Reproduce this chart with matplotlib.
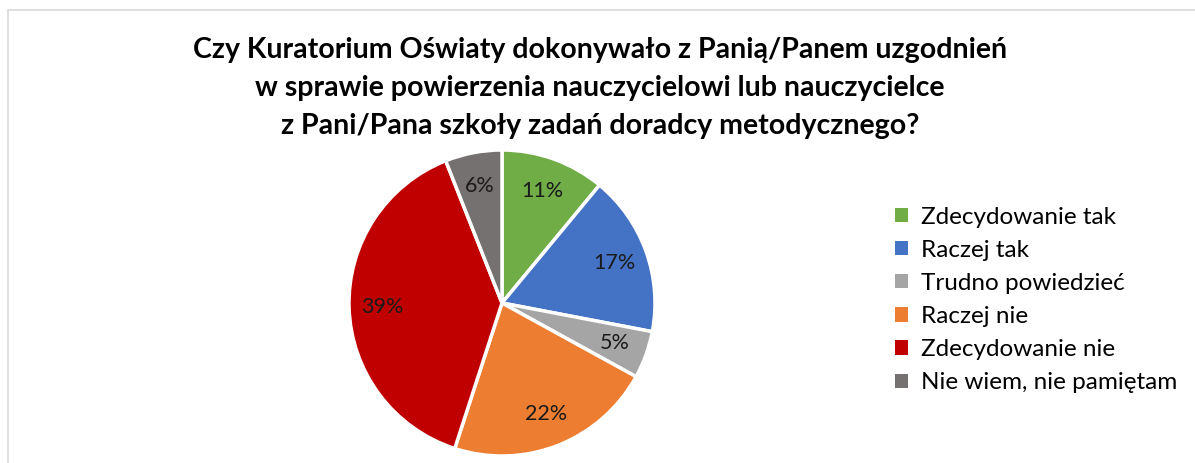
import matplotlib.pyplot as plt
from matplotlib.patches import Patch, Rectangle

# dane
kategorie = ['Zdecydowanie tak', 'Raczej tak', 'Trudno powiedzieć',
             'Raczej nie', 'Zdecydowanie nie', 'Nie wiem, nie pamiętam']
procenty = [11, 17, 5, 22, 39, 6]
kolory = ['#70AD47', '#4472C4', '#A5A5A5', '#ED7D31', '#C00000', '#767171']
tytul = ('Czy Kuratorium Oświaty dokonywało z Panią/Panem uzgodnień\n'
         'w sprawie powierzenia nauczycielowi lub nauczycielce\n'
         'z Pani/Pana szkoły zadań doradcy metodycznego?')

plt.rcParams['font.family'] = ['Lato', 'DejaVu Sans']

fig = plt.figure(figsize=(11.95, 4.63), dpi=100)

# ramka wykresu
fig.patches.append(Rectangle((8 / 1195, -0.1), 1.2, 1 - 10 / 463 + 0.1,
                             transform=fig.transFigure, fill=False,
                             edgecolor='#D9D9D9', linewidth=1.2))

fig.text(0.502, 1 - 88 / 463, tytul, ha='center', va='center',
         fontsize=20.5, fontweight='bold', linespacing=1.55)

ax = fig.add_axes([(502 - 153) / 1195, (160 - 153) / 463, 306 / 1195, 306 / 463])
wedges, _, autotexts = ax.pie(procenty, colors=kolory, startangle=90, counterclock=False,
                              autopct='%d%%', pctdistance=0.78,
                              wedgeprops=dict(edgecolor='white', linewidth=2.5),
                              textprops=dict(fontsize=15.5, color='#1a1a1a'))
ax.set_xlim(-1.0, 1.0)
ax.set_ylim(-1.0, 1.0)
ax.set_aspect('equal')

uchwyty = [Patch(facecolor=c, edgecolor='none') for c in kolory]
fig.legend(uchwyty, kategorie, loc='center left', bbox_to_anchor=(883 / 1195, 1 - 300 / 463),
           frameon=False, fontsize=17.5, handlelength=0.53, handleheight=0.53,
           handletextpad=0.55, labelspacing=0.5, borderpad=0)

fig.savefig('out.png', dpi=100)
